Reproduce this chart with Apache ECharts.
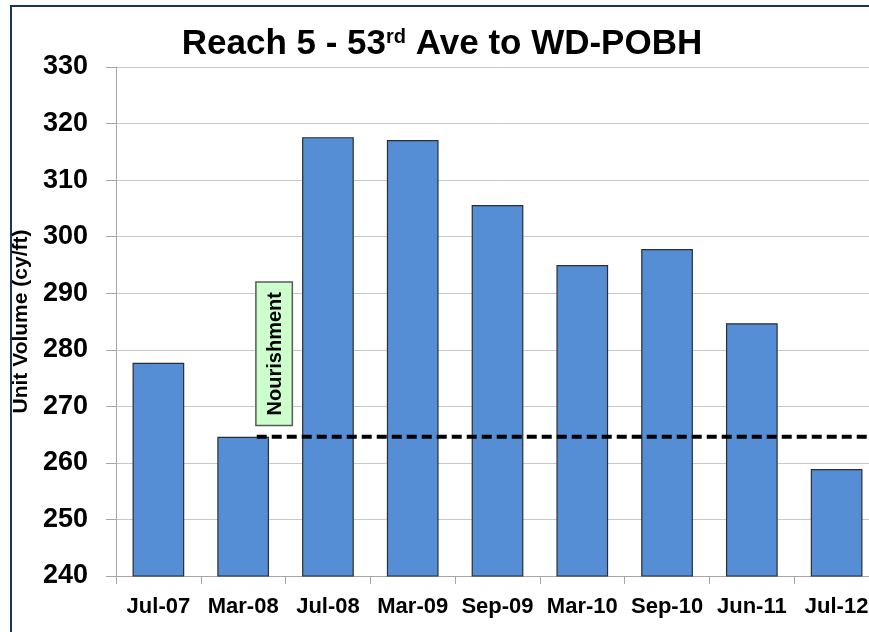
<!DOCTYPE html>
<html>
<head>
<meta charset="utf-8">
<script src="https://cdn.jsdelivr.net/npm/echarts@6/dist/echarts.min.js"></script>
<style>
html, body {
  margin: 0;
  padding: 0;
  overflow: hidden;
  background: #fff;
}
#chart {
  position: absolute;
  left: 0;
  top: 0;
  width: 900px;
  height: 632px;
}
#frame {
  position: absolute;
  left: 10px;
  top: 5px;
  width: 1000px;
  height: 1000px;
  border-left: 2px solid #1f3454;
  border-top: 2px solid #1f3454;
  pointer-events: none;
}
</style>
</head>
<body>
<div id="chart"></div>
<div id="frame"></div>
<script>
// survey dates and unit volumes (cy/ft)
var categories = ["Jul-07", "Mar-08", "Jul-08", "Mar-09", "Sep-09", "Mar-10", "Sep-10", "Jun-11", "Jul-12"];
var volumes = [277.7, 264.6, 317.6, 317.1, 305.6, 295.0, 297.8, 284.7, 258.9];

// dashed post-nourishment baseline, in category units along the x axis
var baselineValue = 264.6;
var baselineStart = 1.66;
var baselineEnd = 9;

// "Nourishment" note box: [x from, x to] in category units, [y from, y to] in cy/ft
var noteBox = [[1.65, 2.08, 266.6, 292.0]];
var noteText = "Nourishment";

var yMin = 240, yMax = 330, yStep = 10;

var font = "Liberation Sans";

var chart = echarts.init(document.getElementById("chart"));

function drawNote(params, api) {
  var p0 = api.coord([api.value(0), api.value(3)]);
  var p1 = api.coord([api.value(1), api.value(2)]);
  var cx = (p0[0] + p1[0]) / 2;
  var cy = (p0[1] + p1[1]) / 2;
  return {
    type: "group",
    children: [
      {
        type: "rect",
        shape: { x: p0[0], y: p0[1], width: p1[0] - p0[0], height: p1[1] - p0[1] },
        style: { fill: "#ccffcc", stroke: "#595959", lineWidth: 1.5 }
      },
      {
        type: "text",
        x: cx + 1,
        y: cy,
        rotation: Math.PI / 2,
        style: {
          text: noteText,
          fontFamily: font,
          fontSize: 20,
          fontWeight: "bold",
          fill: "#000",
          align: "center",
          verticalAlign: "middle"
        }
      }
    ]
  };
}

var option = {
  animation: false,
  title: {
    text: "Reach 5 - 53{sup|rd} Ave to WD-POBH",
    left: 437,
    top: 22,
    textAlign: "center",
    textStyle: {
      fontFamily: font,
      fontSize: 35,
      fontWeight: "bold",
      color: "#000",
      rich: {
        sup: {
          fontFamily: font,
          fontSize: 20,
          fontWeight: "bold",
          color: "#000",
          verticalAlign: "top",
          padding: [0, 0, 14, 0]
        }
      }
    }
  },
  grid: {
    left: 116,
    right: 21,
    top: 67,
    bottom: 56
  },
  xAxis: [
    {
      type: "category",
      data: categories,
      axisLine: { lineStyle: { color: "#a6a6a6" } },
      axisTick: { show: true, length: 8, lineStyle: { color: "#a6a6a6" } },
      axisLabel: {
        interval: 0,
        hideOverlap: false,
        fontFamily: font,
        fontSize: 22,
        fontWeight: "bold",
        color: "#000",
        margin: 20
      },
      splitLine: { show: false }
    },
    {
      type: "value",
      min: 0,
      max: categories.length,
      show: false
    }
  ],
  yAxis: {
    type: "value",
    min: yMin,
    max: yMax,
    interval: yStep,
    name: "Unit Volume (cy/ft)",
    nameLocation: "middle",
    nameGap: 81,
    nameTextStyle: {
      fontFamily: font,
      fontSize: 21,
      fontWeight: "bold",
      color: "#000"
    },
    axisLine: { show: true, lineStyle: { color: "#a6a6a6" } },
    axisTick: { show: true, length: 10, lineStyle: { color: "#a6a6a6" } },
    axisLabel: {
      fontFamily: font,
      fontSize: 27,
      fontWeight: "bold",
      color: "#000",
      margin: 28
    },
    splitLine: { lineStyle: { color: "#c8c8c8", width: 1 } }
  },
  series: [
    {
      type: "bar",
      data: volumes,
      barWidth: "61%",
      itemStyle: {
        color: "#558ed5",
        borderColor: "#2a2f36",
        borderWidth: 1.2
      }
    },
    {
      type: "line",
      xAxisIndex: 1,
      data: [[baselineStart, baselineValue], [baselineEnd, baselineValue]],
      symbol: "none",
      lineStyle: {
        color: "#000",
        width: 4,
        type: [10, 5]
      },
      z: 5
    },
    {
      type: "custom",
      xAxisIndex: 1,
      data: noteBox,
      renderItem: drawNote,
      silent: true,
      z: 6
    }
  ]
};

chart.setOption(option);
</script>
</body>
</html>
